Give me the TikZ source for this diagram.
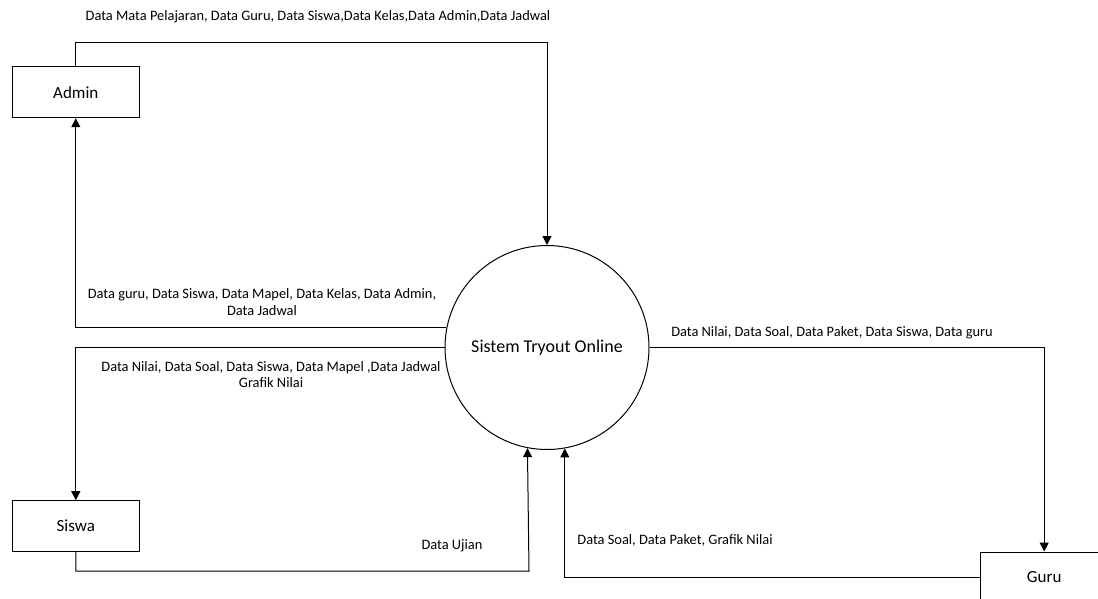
\documentclass[tikz,border=0pt]{standalone}
\usepackage{fontspec}
\setmainfont{Carlito}
\usetikzlibrary{arrows.meta}
\begin{document}
\begin{tikzpicture}[x=1pt,y=-1pt,
  line width=1pt,
  ent/.style={draw,minimum width=127pt,minimum height=51pt,inner sep=0pt,font=\fontsize{17}{20}\selectfont},
  proc/.style={draw,circle,minimum size=204pt,inner sep=0pt,font=\fontsize{18}{21}\selectfont},
  lbl/.style={font=\fontsize{14.4}{16.5}\selectfont,align=center,inner sep=0pt},
  arr/.style={-{Triangle[length=9pt,width=9pt]}}]
\useasboundingbox (0,0) rectangle (1098,599);
\node[ent] (admin) at (75.8,92.2) {Admin};
\node[ent] (siswa) at (75.8,526.2) {Siswa};
\node[ent] (guru) at (1044.2,577.5) {Guru};
\node[proc] (circ) at (547,347.5) {Sistem Tryout Online};
\coordinate (top) at (0,42.3);
\coordinate (sb) at (529,571);
% flows
\draw[arr] (admin.north) -- (admin.north |- top) -| (circ.north);
\draw[arr] (circ.169.6) -| (admin.south);
\draw[arr] (circ.west) -| (siswa.north);
\draw[arr] (siswa.south) |- (sb) -- (circ.259.8);
\draw[arr] (circ.east) -| (guru.north);
\draw[arr] (guru.west) -| (circ.280.7);
% labels
\node[lbl] (l1) at (318,16.5) {Data Mata Pelajaran, Data Guru, Data Siswa,Data Kelas,Data Admin,Data Jadwal};
\node[lbl] (l2) at (262,302) {Data guru, Data Siswa, Data Mapel, Data Kelas, Data Admin,\\Data Jadwal};
\node[lbl] (l3) at (271,374.5) {Data Nilai, Data Soal, Data Siswa, Data Mapel ,Data Jadwal\\Grafik Nilai};
\node[lbl] (l4) at (832,333) {Data Nilai, Data Soal, Data Paket, Data Siswa, Data guru};
\node[lbl] (l5) at (452,546) {Data Ujian};
\node[lbl] (l6) at (675,540) {Data Soal, Data Paket, Grafik Nilai};
\end{tikzpicture}
\end{document}
